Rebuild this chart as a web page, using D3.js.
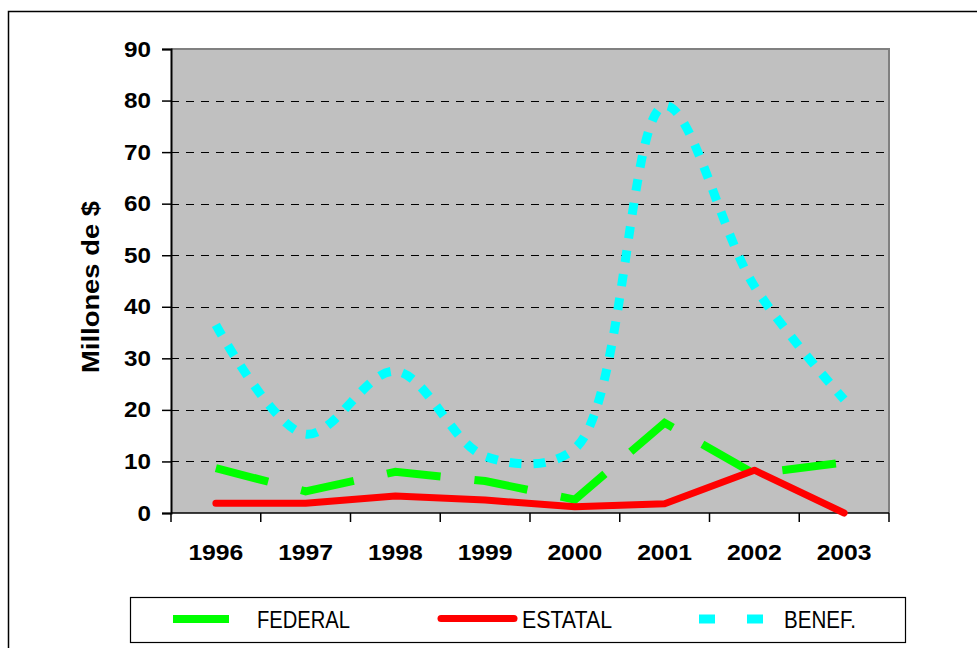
<!DOCTYPE html>
<html>
<head>
<meta charset="utf-8">
<script src="https://cdn.jsdelivr.net/npm/d3@7"></script>
<style>
  body { margin: 0; background: #fff; }
  svg { display: block; }
</style>
</head>
<body>
<div id="chart"></div>
<script>
var width = 977,
    height = 648;

// data
var years = ["1996", "1997", "1998", "1999", "2000", "2001", "2002", "2003"];
var federal = [8.7, 4.2, 8.0, 6.2, 2.6, 17.5, 7.6, 9.8];
var estatal = [1.9, 1.9, 3.3, 2.5, 1.2, 1.8, 8.3, 0];
var benef = [36.5, 15.3, 27.5, 11, 12.5, 79, 44, 22];
var yTicks = [0, 10, 20, 30, 40, 50, 60, 70, 80, 90];

var series = [
  { name: "FEDERAL", values: federal, color: "#00ff00", width: 8, dash: "54,34", cap: "butt", smooth: false },
  { name: "ESTATAL", values: estatal, color: "#ff0000", width: 7, dash: null, cap: "round", smooth: false },
  { name: "BENEF.", values: benef, color: "#00ffff", width: 9, dash: "12,12", cap: "butt", smooth: true }
];

var svg = d3.select("#chart").append("svg")
    .attr("width", width).attr("height", height);

// outer chart border
svg.append("rect")
    .attr("x", 8.5).attr("y", 11.5)
    .attr("width", 1000).attr("height", 700)
    .attr("fill", "none").attr("stroke", "#000").attr("stroke-width", 1.5);

var plotL = 171, plotR = 889, plotT = 49, plotB = 513;

var x = d3.scaleBand().domain(years).range([plotL, plotR]).padding(0);
var y = d3.scaleLinear().domain([0, 90]).range([plotB, plotT]);

// plot area
svg.append("rect")
    .attr("x", plotL).attr("y", plotT)
    .attr("width", plotR - plotL).attr("height", plotB - plotT)
    .attr("fill", "#c0c0c0");
svg.append("line")
    .attr("x1", plotL).attr("x2", plotR + 1)
    .attr("y1", plotT).attr("y2", plotT)
    .attr("stroke", "#808080").attr("stroke-width", 2);
svg.append("line")
    .attr("x1", plotR).attr("x2", plotR)
    .attr("y1", plotT).attr("y2", plotB)
    .attr("stroke", "#808080").attr("stroke-width", 2);

// gridlines
svg.append("g").selectAll("line")
  .data(yTicks.filter(function(d) { return d > 0 && d < 90; }))
  .enter().append("line")
    .attr("x1", plotL).attr("x2", plotR)
    .attr("y1", function(d) { return Math.round(y(d)) + 0.5; })
    .attr("y2", function(d) { return Math.round(y(d)) + 0.5; })
    .attr("stroke", "#000").attr("stroke-width", 1)
    .attr("stroke-dasharray", "8,7");

var labelFont = "Liberation Sans, Arial, sans-serif";

// y axis
var yAxis = svg.append("g")
    .attr("transform", "translate(" + plotL + ",0)")
    .call(d3.axisLeft(y).tickValues(yTicks).tickSize(9).tickPadding(20));
yAxis.select(".domain").attr("stroke", "#000").attr("stroke-width", 2);
yAxis.selectAll(".tick line").attr("stroke-width", 1.5);
yAxis.selectAll("text")
    .attr("x", -20)
    .attr("textLength", function(d) { return String(d).length * 13.5; })
    .attr("lengthAdjust", "spacingAndGlyphs")
    .style("font-family", labelFont)
    .style("font-weight", "bold").style("font-size", "22px").attr("fill", "#000");

// x axis, ticks between categories
var xg = svg.append("g").attr("transform", "translate(0," + plotB + ")");
xg.append("line")
    .attr("x1", plotL).attr("x2", plotR)
    .attr("stroke", "#000").attr("stroke-width", 1.5);
xg.selectAll(".tk")
  .data(years.concat(["end"]))
  .enter().append("line")
    .attr("class", "tk")
    .attr("x1", function(d, i) { return plotL + i * x.bandwidth(); })
    .attr("x2", function(d, i) { return plotL + i * x.bandwidth(); })
    .attr("y1", 0).attr("y2", 9)
    .attr("stroke", "#000").attr("stroke-width", 1.5);
xg.selectAll("text")
  .data(years)
  .enter().append("text")
    .attr("x", function(d) { return x(d) + x.bandwidth() / 2; })
    .attr("y", 47)
    .attr("text-anchor", "middle")
    .attr("textLength", 55)
    .attr("lengthAdjust", "spacingAndGlyphs")
    .style("font-family", labelFont)
    .style("font-weight", "bold").style("font-size", "22px")
    .text(function(d) { return d; });

// y title
svg.append("text")
    .attr("transform", "translate(99,287) rotate(-90)")
    .attr("text-anchor", "middle")
    .attr("textLength", 172)
    .attr("lengthAdjust", "spacingAndGlyphs")
    .style("font-family", labelFont)
    .style("font-weight", "bold").style("font-size", "24px")
    .text("Millones de $");

// lines
var lines = svg.append("g");
series.forEach(function(s) {
  var line = d3.line()
      .x(function(d, i) { return x(years[i]) + x.bandwidth() / 2; })
      .y(function(d) { return y(d); })
      .curve(s.smooth ? d3.curveCatmullRom.alpha(0.5) : d3.curveLinear);
  var p = lines.append("path")
      .datum(s.values)
      .attr("d", line)
      .attr("fill", "none")
      .attr("stroke", s.color)
      .attr("stroke-width", s.width)
      .attr("stroke-linecap", s.cap)
      .attr("stroke-linejoin", s.cap === "round" ? "round" : "miter");
  if (s.dash) p.attr("stroke-dasharray", s.dash);
});

// legend
var lg = svg.append("g");
lg.append("rect")
    .attr("x", 130.5).attr("y", 597.5)
    .attr("width", 775).attr("height", 45)
    .attr("fill", "#fff").attr("stroke", "#000").attr("stroke-width", 1.2);

var legendX = [173, 437, 699];
var textX = [257, 522, 784];
var textW = [93, 90, 72];
series.forEach(function(s, i) {
  var g = lg.append("g");
  if (s.name === "FEDERAL") {
    g.append("line")
        .attr("x1", legendX[i]).attr("x2", legendX[i] + 56)
        .attr("y1", 619).attr("y2", 619)
        .attr("stroke", s.color).attr("stroke-width", s.width);
  } else if (s.name === "ESTATAL") {
    g.append("line")
        .attr("x1", legendX[i] + 4).attr("x2", legendX[i] + 77)
        .attr("y1", 618.5).attr("y2", 618.5)
        .attr("stroke", s.color).attr("stroke-width", s.width)
        .attr("stroke-linecap", "round");
  } else {
    g.append("line")
        .attr("x1", legendX[i]).attr("x2", legendX[i] + 64)
        .attr("y1", 619).attr("y2", 619)
        .attr("stroke", s.color).attr("stroke-width", s.width)
        .attr("stroke-dasharray", "16,32");
  }
  g.append("text")
      .attr("x", textX[i]).attr("y", 628)
      .attr("textLength", textW[i])
      .attr("lengthAdjust", "spacingAndGlyphs")
      .style("font-family", "Liberation Sans Narrow, Arial Narrow, Liberation Sans, sans-serif")
      .style("font-size", "23px")
      .text(s.name);
});
</script>
</body>
</html>
